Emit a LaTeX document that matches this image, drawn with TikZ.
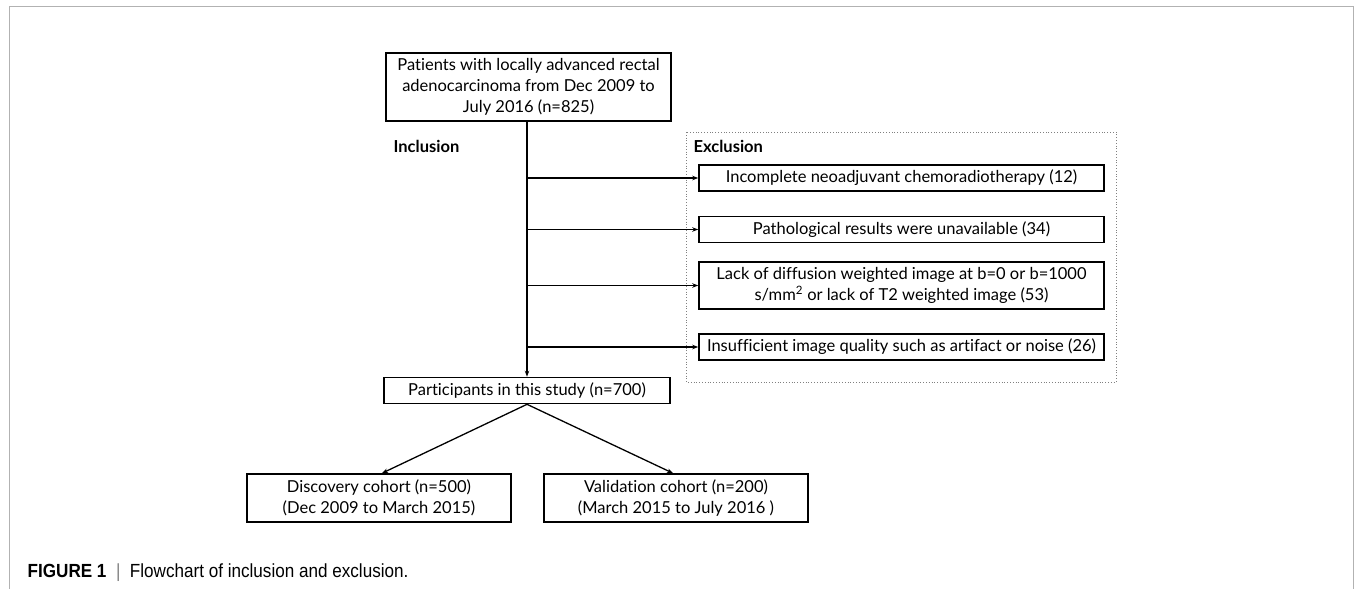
\documentclass[tikz,border=0pt]{standalone}
\usepackage{fontspec}
\setmainfont{Lato}[Ligatures=NoCommon]
\newfontfamily\capfont[FakeStretch=0.9]{Liberation Sans}
\usetikzlibrary{arrows.meta}
\begin{document}
\begin{tikzpicture}[x=1pt, y=-1pt, line width=1.3pt, every node/.style = {shape=rectangle, align=center, inner sep=0pt, font=\fontsize{16.5}{21}\selectfont}]
	\tikzstyle{box} = [draw, line width=1.6pt, minimum height=26pt]
	\tikzstyle{excl} = [box, minimum width=405pt]
	\tikzstyle{head} = [font=\fontsize{16.5}{21}\selectfont\bfseries, anchor=west]
	\tikzstyle{arr} = [-{Stealth[length=6pt, width=4.5pt]}]
	\useasboundingbox (0,0) rectangle (1355,589);
	\draw[gray!60, line width=1pt] (9,589) -- (9,6) -- (1353,6) -- (1353,589);
	\draw[gray, line width=0.8pt, dotted] (686,132) rectangle (1116,382);
	\node[box, minimum width=285pt, minimum height=68pt] (patients) at (528.5,87) {Patients with locally advanced rectal\\adenocarcinoma from Dec 2009 to\\July 2016 (n=825)};
	\node[head] (incl) at (393,146) {Inclusion};
	\node[head] (excl) at (693,146) {Exclusion};
	\node[excl] (ex1) at (901.5,178) {Incomplete neoadjuvant chemoradiotherapy (12)};
	\node[excl] (ex2) at (901.5,229.5) {Pathological results were unavailable (34)};
	\node[excl, minimum height=47pt] (ex3) at (901.5,285.5) {Lack of diffusion weighted image at b=0 or b=1000\\s/mm\textsuperscript{2} or lack of T2 weighted image (53)};
	\node[excl] (ex4) at (901.5,347) {Insufficient image quality such as artifact or noise (26)};
	\node[box, minimum width=286pt] (study) at (527,390.5) {Participants in this study (n=700)};
	\node[box, minimum width=264pt, minimum height=48pt] (disc) at (379,498) {Discovery cohort (n=500)\\(Dec 2009 to March 2015)};
	\node[box, minimum width=264pt, minimum height=48pt] (valid) at (676,498) {Validation cohort (n=200)\\(March 2015 to July 2016 )};
	\draw[arr] (patients.south -| study.north) -- (study.north);
	\foreach \b in {ex1, ex2, ex3, ex4}
		\draw[arr] (\b.west -| study.north) -- (\b.west);
	\draw[arr] (study.south) -- ([xshift=3pt]disc.north);
	\draw[arr] (study.south) -- ([xshift=-3pt]valid.north);
	\node[anchor=west, font=\capfont\fontsize{19}{22}\selectfont] (caption) at (27,573) {\textbf{FIGURE 1}\enspace\textcolor{gray}{|}\enspace Flowchart of inclusion and exclusion.};
\end{tikzpicture}
\end{document}
